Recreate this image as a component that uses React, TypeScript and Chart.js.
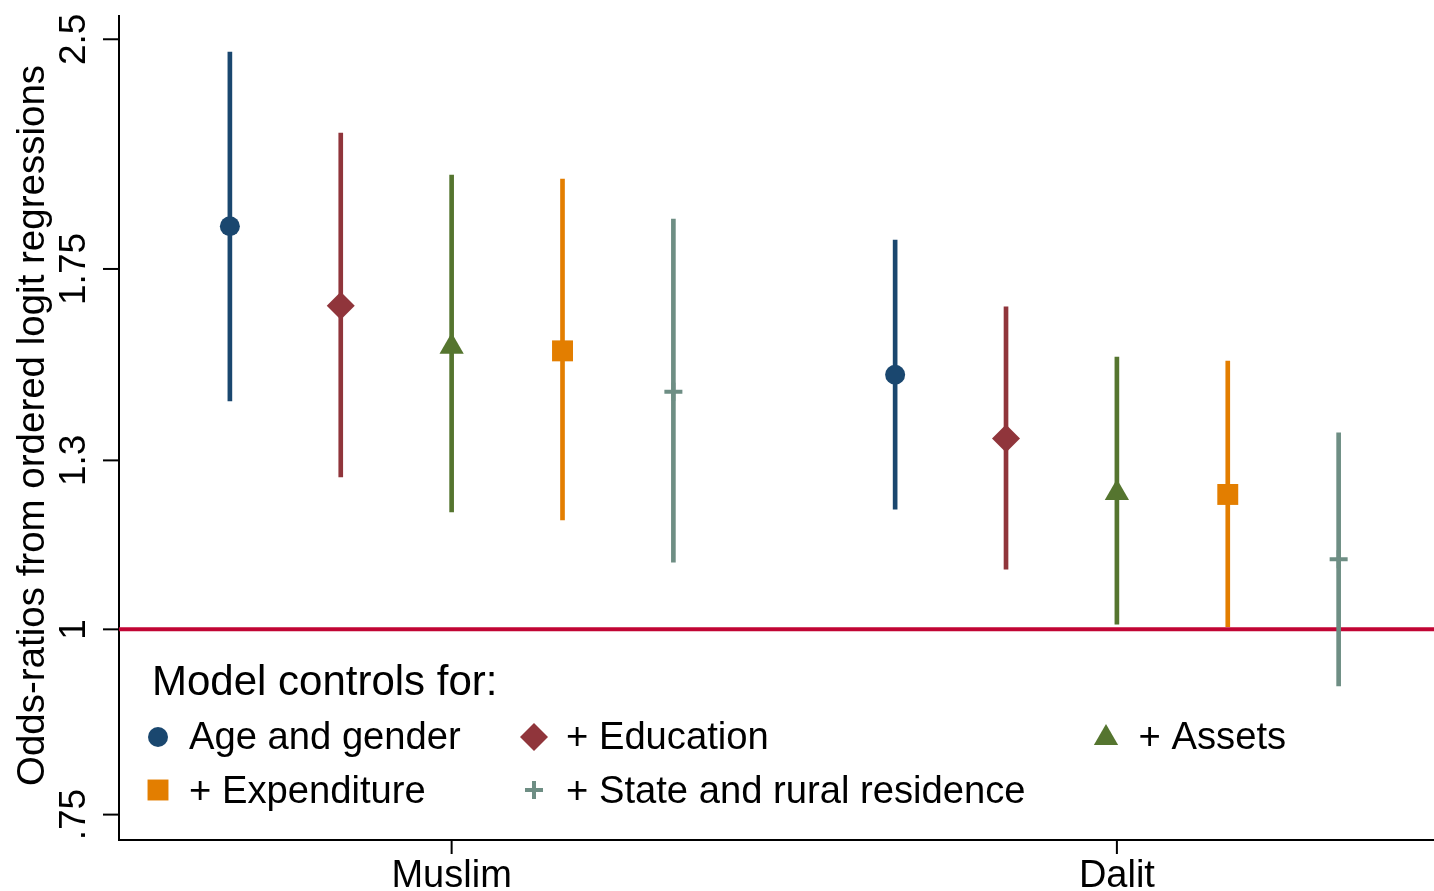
import React, { useEffect, useRef } from "react";
import { Chart, registerables } from "chart.js";

Chart.register(...registerables);

// ---------- data ----------
const categories = ["Muslim", "Dalit"];
const categoryX = [3, 9];
const seriesLabels = [
  "Age and gender",
  "+ Education",
  "+ Assets",
  "+ Expenditure",
  "+ State and rural residence",
];
const seriesColors = ["#1a476f", "#90353b", "#55752f", "#e37e00", "#6e8e84"];
const seriesMarkers = ["circle", "rectRot", "triangle", "rect", "cross"];
const markerRadius = [10, 14, 14, 14.8, 9];

const muslimOR = [1.87, 1.653, 1.551, 1.541, 1.446];
const muslimLow = [1.426, 1.267, 1.2, 1.185, 1.11];
const muslimHigh = [2.451, 2.161, 2.025, 2.012, 1.891];

const dalitOR = [1.485, 1.345, 1.236, 1.233, 1.115];
const dalitLow = [1.205, 1.098, 1.008, 1.004, 0.916];
const dalitHigh = [1.83, 1.65, 1.526, 1.517, 1.357];

const yTickValues = [0.75, 1, 1.3, 1.75, 2.5];
const yTickLabels = [".75", "1", "1.3", "1.75", "2.5"];
const yMin = 0.721;
const yMax = 2.596;
const xMin = 0;
const xMax = 11.86;
const referenceValue = 1;
const yAxisTitle = "Odds-ratios from ordered logit regressions";
const legendTitle = "Model controls for:";

// ---------- helpers ----------
const FONT = '"Liberation Sans", Arial, sans-serif';

function drawMarker(ctx: CanvasRenderingContext2D, style: string, x: number, y: number, r: number, color: string) {
  ctx.save();
  ctx.fillStyle = color;
  ctx.strokeStyle = color;
  ctx.beginPath();
  if (style === "circle") {
    ctx.arc(x, y, r, 0, Math.PI * 2);
    ctx.fill();
  } else if (style === "rectRot") {
    ctx.moveTo(x - r, y);
    ctx.lineTo(x, y - r);
    ctx.lineTo(x + r, y);
    ctx.lineTo(x, y + r);
    ctx.closePath();
    ctx.fill();
  } else if (style === "triangle") {
    let rad = 0;
    ctx.moveTo(x + Math.sin(rad) * r, y - Math.cos(rad) * r);
    rad += (2 * Math.PI) / 3;
    ctx.lineTo(x + Math.sin(rad) * r, y - Math.cos(rad) * r);
    rad += (2 * Math.PI) / 3;
    ctx.lineTo(x + Math.sin(rad) * r, y - Math.cos(rad) * r);
    ctx.closePath();
    ctx.fill();
  } else if (style === "rect") {
    const s = Math.SQRT1_2 * r;
    ctx.rect(x - s, y - s, 2 * s, 2 * s);
    ctx.fill();
  } else if (style === "cross") {
    ctx.lineWidth = 4;
    ctx.moveTo(x - r, y);
    ctx.lineTo(x + r, y);
    ctx.moveTo(x, y - r);
    ctx.lineTo(x, y + r);
    ctx.stroke();
  }
  ctx.restore();
}

const decorPlugin = {
  id: "stataDecor",
  beforeDatasetsDraw(chart: any) {
    const ctx: CanvasRenderingContext2D = chart.ctx;
    const area = chart.chartArea;
    const xs = chart.scales.x;
    const ys = chart.scales.y;
    ctx.save();
    ctx.strokeStyle = "#000";
    ctx.lineWidth = 2;
    // axis lines
    ctx.beginPath();
    ctx.moveTo(area.left, area.top);
    ctx.lineTo(area.left, area.bottom);
    ctx.moveTo(area.left - 1, area.bottom);
    ctx.lineTo(chart.width, area.bottom);
    ctx.stroke();
    // y ticks + labels
    ctx.fillStyle = "#000";
    ctx.font = `37px ${FONT}`;
    yTickValues.forEach((v, i) => {
      const py = ys.getPixelForValue(v);
      ctx.beginPath();
      ctx.moveTo(area.left - 16, py);
      ctx.lineTo(area.left, py);
      ctx.stroke();
      ctx.save();
      ctx.translate(area.left - 34, py);
      ctx.rotate(-Math.PI / 2);
      ctx.textAlign = "center";
      ctx.textBaseline = "alphabetic";
      ctx.fillText(yTickLabels[i], 0, 0);
      ctx.restore();
    });
    // y title
    ctx.save();
    ctx.font = `38.5px ${FONT}`;
    ctx.translate(44, (area.top + area.bottom) / 2 - 2);
    ctx.rotate(-Math.PI / 2);
    ctx.textAlign = "center";
    ctx.textBaseline = "alphabetic";
    ctx.fillText(yAxisTitle, 0, 0);
    ctx.restore();
    // x ticks + labels
    ctx.font = `38px ${FONT}`;
    ctx.textAlign = "center";
    ctx.textBaseline = "alphabetic";
    categories.forEach((c, i) => {
      const px = xs.getPixelForValue(categoryX[i]);
      ctx.beginPath();
      ctx.moveTo(px, area.bottom);
      ctx.lineTo(px, area.bottom + 14);
      ctx.stroke();
      ctx.fillText(c, px, area.bottom + 47);
    });
    ctx.restore();
  },
  afterDatasetsDraw(chart: any) {
    const ctx: CanvasRenderingContext2D = chart.ctx;
    ctx.save();
    ctx.fillStyle = "#000";
    ctx.textAlign = "left";
    ctx.textBaseline = "alphabetic";
    ctx.font = `42px ${FONT}`;
    ctx.fillText(legendTitle, 152, 695);
    ctx.font = `38.2px ${FONT}`;
    const colMarkerX = [158, 534, 1106];
    const colTextX = [189, 566, 1138.6];
    const rowY = [737, 790];
    const rowBase = [749, 803];
    seriesLabels.forEach((lab, i) => {
      const row = Math.floor(i / 3);
      const col = i % 3;
      let my = rowY[row];
      if (seriesMarkers[i] === "triangle") my = rowY[row] + 1;
      drawMarker(ctx, seriesMarkers[i], colMarkerX[col], my, markerRadius[i], seriesColors[i]);
      ctx.fillStyle = "#000";
      ctx.fillText(lab, colTextX[col], rowBase[row]);
    });
    ctx.restore();
  },
};

export default function App() {
  const ref = useRef<HTMLCanvasElement | null>(null);

  useEffect(() => {
    if (!ref.current) return;
    const datasets: any[] = [];
    seriesLabels.forEach((lab, i) => {
      datasets.push({
        type: "scatter",
        label: lab,
        order: 0,
        data: [
          { x: categoryX[0] - 2 + i, y: muslimOR[i] },
          { x: categoryX[1] - 2 + i, y: dalitOR[i] },
        ],
        pointStyle: seriesMarkers[i],
        pointRadius: markerRadius[i],
        pointHoverRadius: markerRadius[i],
        backgroundColor: seriesColors[i],
        borderColor: seriesColors[i],
        pointBorderWidth: seriesMarkers[i] === "cross" ? 4 : 0,
        showLine: false,
      });
    });
    seriesLabels.forEach((lab, i) => {
      datasets.push({
        type: "bar",
        label: lab + " CI",
        order: 1,
        grouped: false,
        data: [
          { x: categoryX[0] - 2 + i, y: [muslimLow[i], muslimHigh[i]] },
          { x: categoryX[1] - 2 + i, y: [dalitLow[i], dalitHigh[i]] },
        ],
        backgroundColor: seriesColors[i],
        borderWidth: 0,
        barThickness: 4,
      });
    });
    datasets.push({
      type: "line",
      label: "reference",
      order: 2,
      data: [
        { x: xMin, y: referenceValue },
        { x: xMax, y: referenceValue },
      ],
      borderColor: "#c10534",
      borderWidth: 4,
      pointRadius: 0,
    });

    const chart = new Chart(ref.current, {
      type: "scatter",
      data: { datasets },
      options: {
        animation: false,
        responsive: false,
        devicePixelRatio: 1,
        layout: { autoPadding: false, padding: { left: 119, top: 15, right: 0, bottom: 51 } },
        scales: {
          x: { type: "linear", min: xMin, max: xMax, bounds: "data", display: false, offset: false },
          y: { type: "logarithmic", min: yMin, max: yMax, bounds: "data", display: false },
        },
        plugins: {
          legend: { display: false },
          tooltip: { enabled: false },
          title: { display: false },
        },
        events: [],
      },
      plugins: [decorPlugin],
    } as any);
    return () => chart.destroy();
  }, []);

  return (
    <div style={{ position: "absolute", left: 0, top: 0, width: 1434, height: 891, background: "#fff" }}>
      <canvas ref={ref} width={1434} height={891} style={{ display: "block", width: 1434, height: 891 }} />
    </div>
  );
}
